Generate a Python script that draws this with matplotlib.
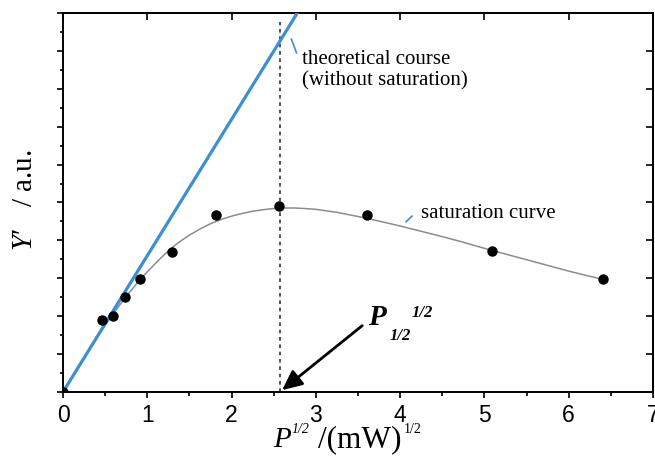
import numpy as np
import matplotlib.pyplot as plt
from matplotlib.ticker import MultipleLocator

plt.rcParams.update({
    "font.family": "Liberation Serif",
    "mathtext.fontset": "custom",
    "mathtext.rm": "Liberation Serif",
    "mathtext.it": "Liberation Serif:italic",
    "mathtext.bf": "Liberation Serif:bold",
})

# ── data ──────────────────────────────────────────────────
p_half = [0.0, 0.46, 0.59, 0.74, 0.91, 1.29, 1.82, 2.56, 3.61, 5.09, 6.41]
y_meas = [0.0, 1.90, 2.01, 2.50, 2.97, 3.70, 4.67, 4.92, 4.67, 3.72, 2.97]

# saturation fit curve (traced)
curve_x = [0.0, 0.1, 0.25, 0.4, 0.5, 0.6, 0.75, 0.9, 1.0, 1.1, 1.2, 1.3, 1.4,
           1.5, 1.625, 1.75, 1.875, 2.0, 2.125, 2.25, 2.375, 2.5, 2.625, 2.75,
           2.875, 3.0, 3.25, 3.5, 3.75, 4.0, 4.25, 4.5, 4.75, 5.0, 5.25, 5.5,
           5.75, 6.0, 6.2, 6.41]
curve_y = [0.0, 0.36, 0.90, 1.43, 1.76, 2.08, 2.52, 2.93, 3.17, 3.40, 3.62,
           3.82, 3.99, 4.14, 4.30, 4.44, 4.55, 4.64, 4.71, 4.77, 4.81, 4.84,
           4.855, 4.855, 4.84, 4.82, 4.74, 4.63, 4.51, 4.38, 4.24, 4.10, 3.95,
           3.79, 3.64, 3.49, 3.34, 3.19, 3.08, 2.97]

# theoretical course (without saturation)
theo_x = [0.0, 2.78]
theo_y = [0.0, 10.0]

p_sat = 2.57   # P_1/2 ^ 1/2

blue = "#3b8fd2"
W, H = 655, 461

fig = plt.figure(figsize=(6.55, 4.61), dpi=100)
ax = fig.add_axes([63 / W, 1 - 392 / H, 590 / W, 379 / H])

ax.plot(curve_x, curve_y, color="#8c8c8c", lw=1.1, zorder=2)
ax.plot(theo_x, theo_y, color=blue, lw=2.3, zorder=3)
ax.plot(p_half, y_meas, "o", color="black", ms=6.5, zorder=4)
ax.plot([p_sat, p_sat], [0, 9.76], color="#333333", lw=1.2,
        linestyle=(0, (2.2, 2.2)), zorder=1)

ax.set_xlim(0, 7)
ax.set_ylim(0, 10)

# ticks: bottom/left outward with minors, top/right inward majors only
ax.xaxis.set_major_locator(MultipleLocator(1))
ax.xaxis.set_minor_locator(MultipleLocator(0.5))
ax.yaxis.set_major_locator(MultipleLocator(1))
ax.yaxis.set_minor_locator(MultipleLocator(0.5))
ax.tick_params(axis="x", which="major", direction="out", length=4.5, width=1.2,
               labelsize=16.5, pad=4)
ax.tick_params(axis="x", which="minor", direction="out", length=3, width=1.2)
ax.tick_params(axis="y", which="major", direction="out", length=4.5, width=1.2,
               labelleft=False)
ax.tick_params(axis="y", which="minor", direction="out", length=2.5, width=1.2)
for lab in ax.get_xticklabels():
    lab.set_fontfamily("Liberation Sans")

sec_x = ax.secondary_xaxis("top")
sec_x.xaxis.set_major_locator(MultipleLocator(1))
sec_x.tick_params(direction="in", length=5, width=1.2, labeltop=False)
sec_y = ax.secondary_yaxis("right")
sec_y.yaxis.set_major_locator(MultipleLocator(1))
sec_y.tick_params(direction="in", length=5, width=1.2, labelright=False)
for a in (ax, sec_x, sec_y):
    for sp in a.spines.values():
        sp.set_linewidth(1.4)

# annotations
ax.text(2.83, 8.5, "theoretical course\n(without saturation)", fontsize=15,
        va="center", ha="left", linespacing=1.15)
ax.plot([2.71, 2.77], [9.31, 8.95], color=blue, lw=1.2)
ax.text(4.25, 4.72, "saturation curve", fontsize=15, va="center", ha="left")
ax.plot([4.07, 4.14], [4.49, 4.64], color=blue, lw=1.2)

ax.annotate("", xy=(p_sat + 0.03, 0.05), xytext=(3.55, 1.75),
            arrowprops=dict(arrowstyle="-|>,head_length=0.6,head_width=0.28",
                            mutation_scale=20, color="black", lw=2,
                            shrinkA=0, shrinkB=0))
bi = dict(fontweight="bold", fontstyle="italic", ha="left", va="baseline")
ax.text(3.62, 1.77, "P", fontsize=21, **bi)
ax.text(3.87, 1.37, "1/2", fontsize=12, **bi)
ax.text(4.14, 1.98, "1/2", fontsize=12, **bi)

# x label built from pieces (small raised 1/2)
fig.text(273 / W, 1 - 447 / H, "P", fontsize=21, fontstyle="italic",
         ha="left", va="baseline")
fig.text(291 / W, 1 - 433 / H, "1/2", fontsize=10, fontstyle="italic",
         ha="left", va="baseline")
unit = fig.text(318 / W, 1 - 447 / H, "/(mW)", fontsize=22.5,
                ha="left", va="baseline")
r = fig.canvas.get_renderer()
x_end = unit.get_window_extent(r).x1
fig.text(x_end / W + 2 / W, 1 - 433 / H, "1/2", fontsize=10,
         ha="left", va="baseline")

fig.text(25 / W, 1 - 200 / H, "$\\mathit{Y}$\u2032   / a.u.", fontsize=21,
         rotation=90, ha="center", va="center")

fig.savefig("out.png", dpi=100)
